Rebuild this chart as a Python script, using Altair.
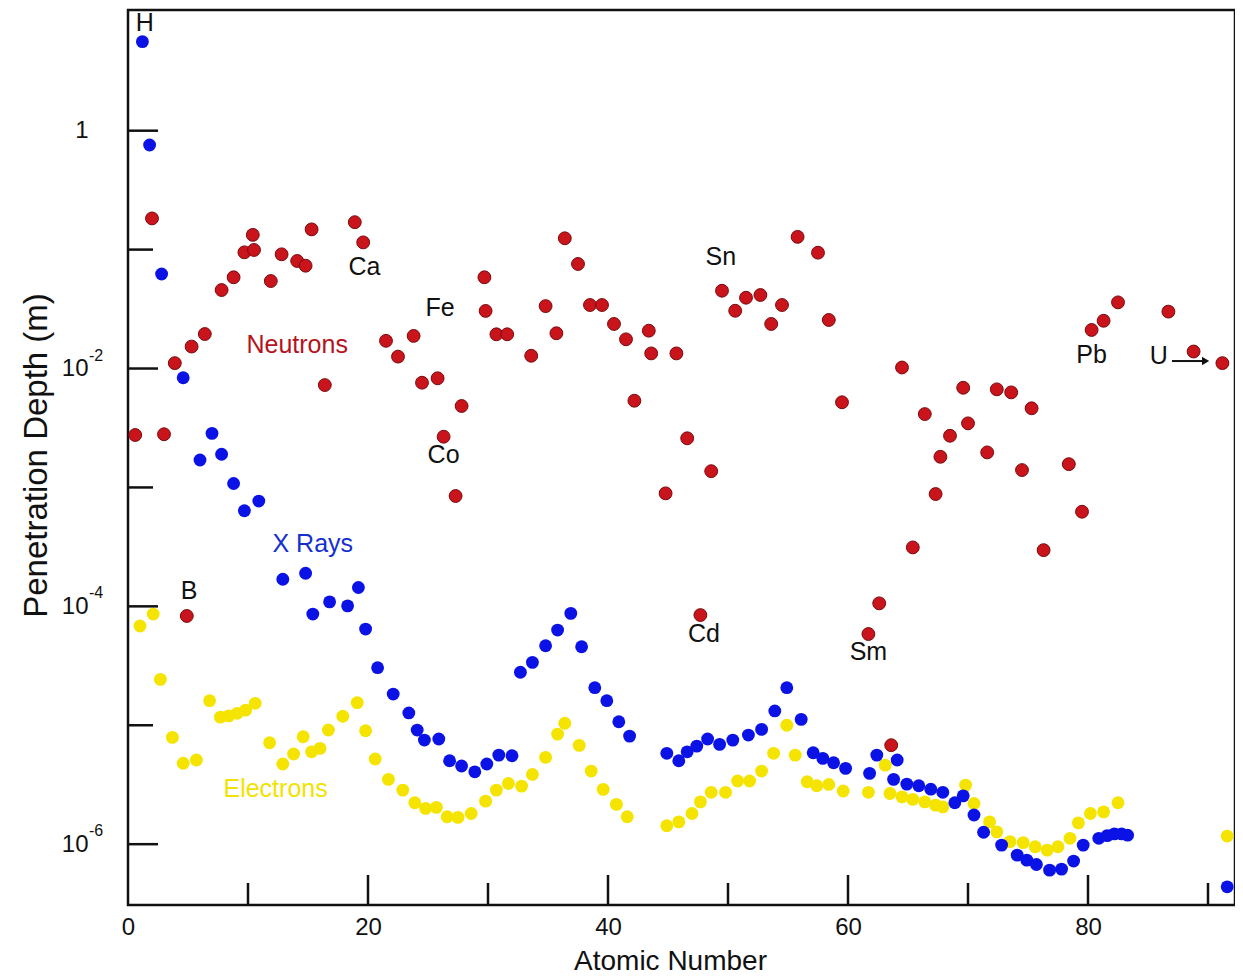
import altair as alt
import pandas as pd

FONT = "Liberation Sans"

# ---------------- data ----------------
neutron_z = [0.6, 2.0, 3.0, 3.9, 4.9, 5.3, 6.4, 7.8, 8.8, 9.7,
             10.5, 10.4, 11.9, 12.8, 14.1, 14.8, 15.3, 16.4, 18.9, 19.6,
             21.5, 22.5, 23.8, 24.5, 25.8, 26.3, 27.3, 27.8, 29.7, 29.8,
             30.7, 31.6, 33.6, 34.8, 35.7, 36.4, 37.5, 38.5, 39.5, 40.5,
             41.5, 42.2, 43.4, 43.6, 44.8, 45.7, 46.6, 47.7, 48.6, 49.5,
             50.6, 51.5, 52.7, 53.6, 54.5, 55.8, 57.5, 58.4, 59.5, 61.7,
             62.6, 63.6, 64.5, 65.4, 66.4, 67.3, 67.7, 68.5, 69.6, 70.0,
             71.6, 72.4, 73.6, 74.5, 75.3, 76.3, 78.4, 79.5, 80.3, 81.3,
             82.5, 86.7, 88.8, 91.2]
neutron_depth = [2.76e-3, 0.183, 2.80e-3, 0.0111, 8.3e-5, 0.0153, 0.0195, 0.0457, 0.0585, 0.0949,
                 0.0993, 0.133, 0.0544, 0.0913, 0.0802, 0.0732, 0.148, 7.26e-3, 0.170, 0.115,
                 0.0171, 0.0126, 0.0188, 7.6e-3, 8.28e-3, 2.67e-3, 8.47e-4, 4.84e-3, 0.0585, 0.0305,
                 0.0194, 0.0194, 0.0128, 0.0335, 0.0198, 0.1245, 0.0757, 0.0342, 0.0342, 0.0237,
                 0.0176, 5.36e-3, 0.0208, 0.0134, 8.92e-4, 0.0134, 2.59e-3, 8.45e-5, 1.37e-3, 0.0451,
                 0.0306, 0.0394, 0.0415, 0.0237, 0.0342, 0.128, 0.0942, 0.0256, 5.2e-3, 5.85e-5,
                 1.06e-4, 6.8e-6, 0.0102, 3.13e-4, 4.14e-3, 8.8e-4, 1.81e-3, 2.72e-3, 6.89e-3, 3.46e-3,
                 1.97e-3, 6.68e-3, 6.3e-3, 1.4e-3, 4.63e-3, 2.97e-4, 1.57e-3, 6.25e-4, 0.0211, 0.0252,
                 0.036, 0.0301, 0.0139, 0.0111]

xray_z = [1.2, 1.8, 2.8, 4.6, 6.0, 7.0, 7.8, 8.8, 9.7, 10.9,
          12.9, 14.8, 15.4, 16.8, 18.3, 19.2, 19.8, 20.8, 22.1, 23.4,
          24.1, 24.7, 25.9, 26.8, 27.8, 28.9, 29.9, 30.9, 32.0, 32.7,
          33.7, 34.8, 35.8, 36.9, 37.8, 38.9, 39.9, 40.9, 41.8, 44.9,
          45.9, 46.6, 47.4, 48.3, 49.3, 50.4, 51.7, 52.8, 53.9, 54.9,
          56.1, 57.1, 57.9, 58.8, 59.8, 61.8, 62.4, 64.1, 63.8, 64.9,
          65.9, 66.9, 67.9, 68.9, 69.6, 70.5, 71.3, 72.8, 74.1, 74.9,
          75.7, 76.8, 77.8, 78.8, 79.6, 80.9, 81.6, 82.2, 82.8, 83.3,
          91.6]
xray_depth = [5.61, 0.758, 0.0623, 8.37e-3, 1.70e-3, 2.85e-3, 1.90e-3, 1.08e-3, 6.37e-4, 7.68e-4,
              1.69e-4, 1.90e-4, 8.61e-5, 1.09e-4, 1.01e-4, 1.44e-4, 6.44e-5, 3.05e-5, 1.83e-5, 1.27e-5,
              9.11e-6, 7.51e-6, 7.66e-6, 5.03e-6, 4.54e-6, 4.06e-6, 4.72e-6, 5.61e-6, 5.54e-6, 2.79e-5,
              3.38e-5, 4.66e-5, 6.32e-5, 8.73e-5, 4.57e-5, 2.07e-5, 1.61e-5, 1.07e-5, 8.11e-6, 5.81e-6,
              5.03e-6, 5.98e-6, 6.68e-6, 7.66e-6, 6.91e-6, 7.50e-6, 8.27e-6, 9.23e-6, 1.32e-5, 2.07e-5,
              1.12e-5, 5.87e-6, 5.27e-6, 4.84e-6, 4.34e-6, 3.94e-6, 5.61e-6, 5.10e-6, 3.51e-6, 3.20e-6,
              3.10e-6, 2.90e-6, 2.73e-6, 2.23e-6, 2.55e-6, 1.76e-6, 1.26e-6, 9.82e-7, 8.09e-7, 7.34e-7,
              6.75e-7, 6.05e-7, 6.17e-7, 7.21e-7, 9.82e-7, 1.12e-6, 1.18e-6, 1.22e-6, 1.22e-6, 1.19e-6,
              4.38e-7]

electron_z = [1.0, 2.1, 2.7, 3.7, 4.6, 5.7, 6.8, 7.7, 8.4, 9.1,
              9.8, 10.6, 11.8, 12.9, 13.8, 14.6, 15.3, 16.0, 16.7, 17.9,
              19.1, 19.8, 20.6, 21.7, 22.9, 23.9, 24.8, 25.7, 26.6, 27.5,
              28.6, 29.8, 30.7, 31.7, 32.8, 33.7, 34.8, 35.8, 36.4, 37.6,
              38.6, 39.6, 40.7, 41.6, 44.9, 45.9, 47.0, 47.7, 48.6, 49.8,
              50.8, 51.8, 52.8, 53.8, 54.9, 55.6, 56.6, 57.4, 58.4, 59.6,
              61.7, 63.1, 63.5, 64.5, 65.4, 66.4, 67.3, 67.9, 69.8, 70.5,
              71.8, 72.4, 73.5, 74.6, 75.6, 76.6, 77.5, 78.5, 79.2, 80.2,
              81.3, 82.5, 91.6]
electron_depth = [6.83e-5, 8.61e-5, 2.43e-5, 7.91e-6, 4.79e-6, 5.10e-6, 1.61e-5, 1.17e-5, 1.20e-5, 1.26e-5,
                  1.34e-5, 1.53e-5, 7.13e-6, 4.72e-6, 5.73e-6, 8.00e-6, 5.98e-6, 6.39e-6, 9.12e-6, 1.19e-5,
                  1.55e-5, 8.99e-6, 5.20e-6, 3.51e-6, 2.85e-6, 2.23e-6, 2.00e-6, 2.04e-6, 1.70e-6, 1.68e-6,
                  1.81e-6, 2.30e-6, 2.85e-6, 3.24e-6, 3.08e-6, 3.86e-6, 5.37e-6, 8.43e-6, 1.04e-5, 6.78e-6,
                  4.12e-6, 2.89e-6, 2.16e-6, 1.70e-6, 1.43e-6, 1.54e-6, 1.81e-6, 2.27e-6, 2.73e-6, 2.73e-6,
                  3.40e-6, 3.40e-6, 4.12e-6, 5.81e-6, 1.00e-5, 5.61e-6, 3.35e-6, 3.10e-6, 3.18e-6, 2.80e-6,
                  2.73e-6, 4.62e-6, 2.67e-6, 2.50e-6, 2.38e-6, 2.27e-6, 2.13e-6, 2.06e-6, 3.14e-6, 2.20e-6,
                  1.54e-6, 1.27e-6, 1.05e-6, 1.03e-6, 9.51e-7, 8.92e-7, 9.51e-7, 1.12e-6, 1.51e-6, 1.81e-6,
                  1.87e-6, 2.23e-6, 1.17e-6]

label_text = ["H", "Ca", "Fe", "Neutrons", "Sn", "Co", "X Rays", "B", "Cd", "Sm", "Electrons", "Pb", "U"]
label_z = [1.4, 19.7, 26.0, 14.1, 49.4, 26.3, 15.4, 5.1, 48.0, 61.7, 12.3, 80.3, 85.9]
label_depth = [8.05, 0.0714, 0.0323, 0.0158, 0.0867, 1.87e-3, 3.34e-4, 1.35e-4, 5.85e-5, 4.13e-5, 2.91e-6, 0.0130, 0.0127]
label_color = ["#111111", "#111111", "#111111", "#b5121b", "#111111", "#111111", "#1530d0",
               "#111111", "#111111", "#111111", "#f2e200", "#111111", "#111111"]

arrow_z = [87.0]
arrow_z2 = [89.6]
arrow_head_z = [89.8]
arrow_depth = [0.01156]

x_label_values = [0, 20, 40, 60, 80]
x_major = [20, 40, 60, 80]
x_minor = [10, 30, 50, 70, 90]
y_major = [1, 1e-2, 1e-4, 1e-6]
y_minor = [1e-1, 1e-3, 1e-5]
y_exp_values = [1e-2, 1e-4, 1e-6]
y_exp_text = ["-2", "-4", "-6"]

# ---------------- tables ----------------
neutrons = pd.DataFrame({"z": neutron_z, "d": neutron_depth})
xrays = pd.DataFrame({"z": xray_z, "d": xray_depth})
electrons = pd.DataFrame({"z": electron_z, "d": electron_depth})
labels = pd.DataFrame({"t": label_text, "z": label_z, "d": label_depth, "c": label_color})
arrow = pd.DataFrame({"z": arrow_z, "z2": arrow_z2, "zh": arrow_head_z, "d": arrow_depth})
xmaj = pd.DataFrame({"v": x_major})
xmin = pd.DataFrame({"v": x_minor})
ymaj = pd.DataFrame({"v": y_major})
ymin = pd.DataFrame({"v": y_minor})
yexp = pd.DataFrame({"v": y_exp_values, "t": y_exp_text})

W, H = 1107, 895
xsc = alt.Scale(domain=[0, 92.25], nice=False, zero=False)
ysc = alt.Scale(type="log", domain=[3.08e-7, 10.35], nice=False)

x_axis = alt.Axis(values=x_label_values, title="Atomic Number", grid=False, ticks=False, tickSize=0,
                  domain=False, labelPadding=10, labelFontSize=24, labelFont=FONT, labelColor="#111111",
                  labelFlush=False, labelOverlap=False, titleFont=FONT, titleFontSize=28,
                  titleFontWeight="normal", titleColor="#111111", titleX=542, titleY=64,
                  titleBaseline="alphabetic", titleAlign="center")
y_axis = alt.Axis(values=y_major, labelExpr="datum.value == 1 ? '1' : '10'",
                  title="Penetration Depth (m)", grid=False, ticks=False, tickSize=0, domain=False,
                  labelPadding=40, labelFontSize=24, labelFont=FONT, labelColor="#111111",
                  labelFlush=False, labelOverlap=False, labelBaseline="middle",
                  titleFont=FONT, titleFontSize=33, titleFontWeight="normal", titleColor="#111111",
                  titleAngle=270, titleX=-92, titleY=445, titleBaseline="middle", titleAlign="center")


def X(field):
    return alt.X(field, type="quantitative", scale=xsc, axis=x_axis)


def Y(field):
    return alt.Y(field, type="quantitative", scale=ysc, axis=y_axis)


base_e = alt.Chart(electrons).mark_circle(size=165, opacity=1, color="#f4e400").encode(
    x=X("z"), y=Y("d"))
base_x = alt.Chart(xrays).mark_circle(size=165, opacity=1, color="#0a12e6").encode(x=X("z"), y=Y("d"))
base_n = alt.Chart(neutrons).mark_circle(size=165, opacity=1, color="#c9141c", stroke="#7a0a0e",
                                         strokeWidth=1).encode(x=X("z"), y=Y("d"))

tick_xmaj = alt.Chart(xmaj).mark_rule(color="#111111", strokeWidth=2.5).encode(
    x=X("v"), y=alt.value(H), y2=alt.value(H - 30))
tick_xmin = alt.Chart(xmin).mark_rule(color="#111111", strokeWidth=2.5).encode(
    x=X("v"), y=alt.value(H), y2=alt.value(H - 22))
tick_ymaj = alt.Chart(ymaj).mark_rule(color="#111111", strokeWidth=2.5).encode(
    y=Y("v"), x=alt.value(0), x2=alt.value(30))
tick_ymin = alt.Chart(ymin).mark_rule(color="#111111", strokeWidth=2.5).encode(
    y=Y("v"), x=alt.value(0), x2=alt.value(25))
exps = alt.Chart(yexp).mark_text(font=FONT, fontSize=16, align="left", baseline="middle", dy=-13,
                                 color="#111111").encode(y=Y("v"), x=alt.value(-39), text="t:N")

texts = alt.Chart(labels).mark_text(font=FONT, fontSize=25, align="center", baseline="middle").encode(
    x=X("z"), y=Y("d"), text="t:N", color=alt.Color("c:N", scale=None))

arrow_line = alt.Chart(arrow).mark_rule(color="#111111", strokeWidth=2).encode(
    x=X("z"), x2="z2", y=Y("d"))
arrow_head = alt.Chart(arrow).mark_point(shape="triangle-right", filled=True, size=70, opacity=1,
                                         color="#111111").encode(x=X("zh"), y=Y("d"))

chart = alt.layer(
    base_e, base_x, base_n, tick_xmaj, tick_xmin, tick_ymaj, tick_ymin, exps, texts, arrow_line, arrow_head
).properties(
    width=W, height=H,
    autosize=alt.AutoSizeParams(type="none"),
    padding={"left": 120, "top": 2, "right": 0, "bottom": 72},
    background="white",
).configure_view(stroke="#111111", strokeWidth=2.5)

chart.save("out.html", embed_options={"renderer": "svg", "actions": False})
